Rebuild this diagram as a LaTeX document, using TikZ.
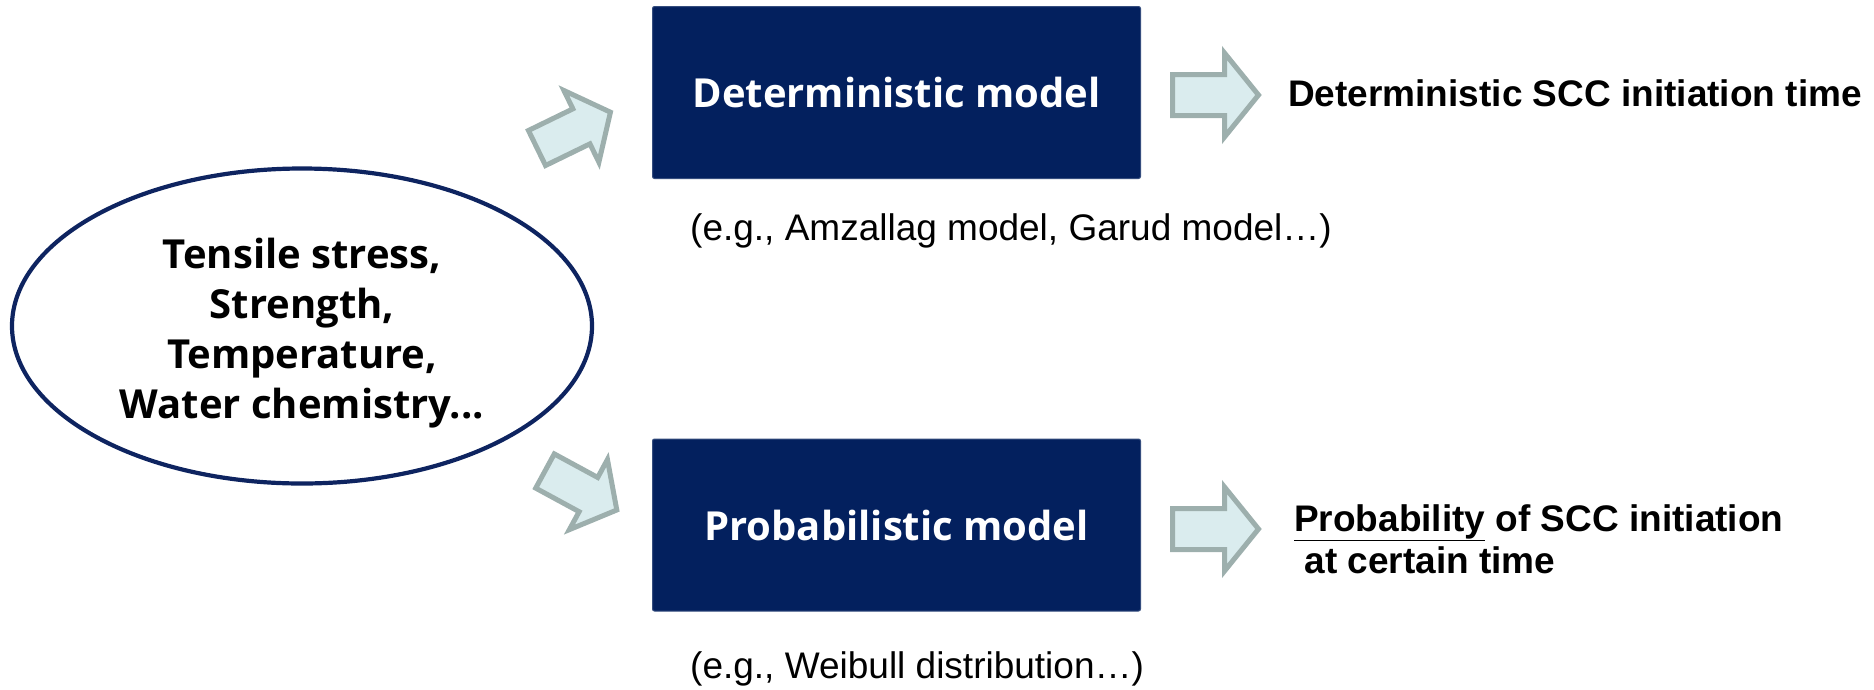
\documentclass[tikz,border=0pt]{standalone}
\usepackage{fontspec}
\setmainfont{Liberation Sans}
\newfontfamily\kfont{Open Sans}
\usetikzlibrary{shapes.geometric}
\definecolor{navy}{HTML}{03205E}
\definecolor{ellline}{HTML}{0E2460}
\definecolor{arrfill}{HTML}{DAECEE}
\definecolor{arrline}{HTML}{9DAFAD}
\tikzset{
  modelbox/.style={fill=navy, draw=navy!80!white, line width=1pt, rounded corners=2pt,
    minimum width=488pt, minimum height=172pt, inner sep=0pt,
    text=white, font=\kfont\bfseries\fontsize{40}{50}\selectfont},
  factors/.style={draw=ellline, line width=4.2pt, ellipse, minimum width=580pt,
    minimum height=315pt, inner sep=0pt, align=center,
    font=\kfont\bfseries\fontsize{40}{50}\selectfont},
  blockarrow/.style={draw=arrline, fill=arrfill, line width=5pt, line join=miter},
  result/.style={anchor=west, inner sep=0pt, font=\bfseries\fontsize{37}{42}\selectfont, align=left},
  example/.style={anchor=west, inner sep=0pt, font=\fontsize{37}{42}\selectfont}
}
\newcommand{\arrowshape}{(0,-20.5) -- (52,-20.5) -- (52,-42) -- (86,0) -- (52,42) -- (52,20.5) -- (0,20.5) -- cycle}
\begin{document}
\begin{tikzpicture}[x=1pt, y=-1pt]
\useasboundingbox (0,0) rectangle (1874,689);
% input ellipse
\node[factors] (inputs) at (302,326) {\raisebox{-7pt}[\height][\depth]{\begin{tabular}{@{}c@{}}Tensile stress,\\Strength,\\Temperature,\\Water chemistry...\end{tabular}}};
% model boxes
\node[modelbox] (det) at (896.5,92.5) {Deterministic model};
\node[modelbox] (prob) at (896.5,525) {Probabilistic model};
% examples
\node[example] (detex) at (690,231) {(e.g., Amzallag model, Garud model…)};
\node[example] (probex) at (690,669) {(e.g., Weibull distribution…)};
% results
\node[result] (detres) at (1288,93) {Deterministic SCC initiation time};
\node[result] (probres) at (1294,539) {\underline{Probability} of SCC initiation\\\hspace*{0.28em}at certain time};
% block arrows
\draw[blockarrow, shift={(537,148)}, rotate=26, scale=0.95] \arrowshape;
\draw[blockarrow, shift={(545,471)}, rotate=-28.5, scale=0.95] \arrowshape;
\draw[blockarrow, shift={(1172.5,95)}] \arrowshape;
\draw[blockarrow, shift={(1172.5,529)}] \arrowshape;
\end{tikzpicture}
\end{document}
